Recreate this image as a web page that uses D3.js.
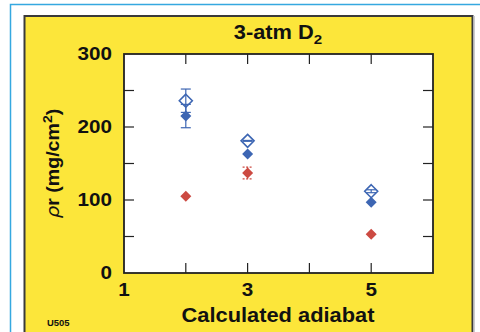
<!DOCTYPE html>
<html>
<head>
<meta charset="utf-8">
<script src="https://cdn.jsdelivr.net/npm/d3@7"></script>
<style>
  body { margin: 0; background: #fff; }
  text { font-family: "Liberation Sans", Arial, Helvetica, sans-serif; font-weight: bold; fill: #111; }
</style>
</head>
<body>
<div id="chart"></div>
<script>
// adiabat positions
var adiabat = [2, 3, 5];
// open blue diamonds
var openBlue = [236, 181, 112];
var openBlueErr = [16, 0.6, 2];
// filled blue diamonds
var fillBlue = [215, 163, 97];
var fillBlueErr = [16, 0, 0];
// filled red diamonds
var fillRed = [105, 137, 53];
var fillRedErr = [0, 8, 0];

var xTicks = [1, 3, 5];
var yTicks = [0, 100, 200, 300];

var W = 480, H = 332;
var margin = {top: 54, right: 47, bottom: 59, left: 124};
var stretch = 1.12; // the original lettering is a bit wider than Arial

var svg = d3.select("#chart").append("svg")
  .attr("width", W)
  .attr("height", H);

// outer light blue frame
svg.append("path")
  .attr("d", "M10.5," + H + "V4.5H" + W)
  .attr("fill", "none")
  .attr("stroke", "#35a8e0")
  .attr("stroke-width", 1.5);

// yellow panel
svg.append("rect")
  .attr("x", 24.5).attr("y", 16)
  .attr("width", 448).attr("height", H)
  .attr("fill", "#fce63a")
  .attr("stroke", "#3a3a3a")
  .attr("stroke-width", 2);
svg.append("line")
  .attr("x1", 474).attr("x2", 474).attr("y1", 16).attr("y2", H)
  .attr("stroke", "#bbb").attr("stroke-width", 1.5);

var pw = W - margin.left - margin.right;
var ph = H - margin.top - margin.bottom;

var x = d3.scaleLinear().domain([1, 6]).range([margin.left, margin.left + pw]);
var y = d3.scaleLinear().domain([0, 300]).range([margin.top + ph, margin.top]);

svg.append("rect")
  .attr("x", margin.left).attr("y", margin.top)
  .attr("width", pw).attr("height", ph)
  .attr("fill", "#fff");

// inward ticks on all four sides
var tl = 10;
var xMinor = [2, 3, 4, 5];
var yMinor = [50, 100, 150, 200, 250];
var ticks = svg.append("g").attr("stroke", "#222").attr("stroke-width", 1.2);
xMinor.forEach(function(v) {
  ticks.append("line").attr("x1", x(v)).attr("x2", x(v))
    .attr("y1", y(0)).attr("y2", y(0) - tl);
  ticks.append("line").attr("x1", x(v)).attr("x2", x(v))
    .attr("y1", y(300)).attr("y2", y(300) + tl);
});
yMinor.forEach(function(v) {
  ticks.append("line").attr("x1", x(1)).attr("x2", x(1) + tl)
    .attr("y1", y(v)).attr("y2", y(v));
  ticks.append("line").attr("x1", x(6)).attr("x2", x(6) - tl)
    .attr("y1", y(v)).attr("y2", y(v));
});

svg.append("rect")
  .attr("x", margin.left).attr("y", margin.top)
  .attr("width", pw).attr("height", ph)
  .attr("fill", "none")
  .attr("stroke", "#222")
  .attr("stroke-width", 1.8);

function label(px, py, size, anchor, sx, rot) {
  var g = svg.append("g")
    .attr("transform", "translate(" + px + "," + py + ")" + (rot ? " rotate(" + rot + ")" : "") +
      " scale(" + sx + ",1)");
  return g.append("text")
    .attr("text-anchor", anchor)
    .attr("font-size", size);
}

// tick labels
xTicks.forEach(function(d) {
  label(x(d), y(0) + 23, 17.5, "middle", 1.18).text(d);
});
yTicks.forEach(function(d) {
  label(x(1) - 12, y(d) + 6, 17.5, "end", 1.18).text(d);
});

// titles
var title = label(278, 39, 19.5, "middle", stretch).text("3-atm D");
title.append("tspan").attr("font-size", 13.5).attr("dy", 5).text("2");

label(278, 322, 19.5, "middle", stretch).text("Calculated adiabat");

var yt = label(59, margin.top + ph / 2, 17.5, "middle", stretch, -90);
yt.append("tspan").attr("font-family", "DejaVu Sans").attr("font-style", "italic")
  .attr("font-weight", "normal").text("\u03c1");
yt.append("tspan").text("r (mg/cm");
yt.append("tspan").attr("font-size", 12.5).attr("dy", -7).text("2");
yt.append("tspan").attr("dy", 7).text(")");

label(47, 326, 9, "start", 1.05).text("U505");

// data
var blue = "#3d66b3", red = "#cc4a42";

function diamond(r) {
  return "M0," + (-r) + "L" + r + ",0L0," + r + "L" + (-r) + ",0Z";
}

function errorBars(vals, errs, color, dash) {
  var g = svg.append("g").attr("stroke", color).attr("stroke-width", 1.2)
    .attr("stroke-dasharray", dash || null);
  adiabat.forEach(function(a, i) {
    if (!errs[i]) return;
    var cx = x(a);
    g.append("line").attr("x1", cx).attr("x2", cx)
      .attr("y1", y(vals[i] + errs[i])).attr("y2", y(vals[i] - errs[i]));
    [vals[i] + errs[i], vals[i] - errs[i]].forEach(function(v) {
      g.append("line").attr("x1", cx - 5).attr("x2", cx + 5)
        .attr("y1", y(v)).attr("y2", y(v));
    });
  });
}

errorBars(openBlue, openBlueErr, blue);
errorBars(fillBlue, fillBlueErr, blue);
errorBars(fillRed, fillRedErr, red, "2,1.5");

svg.selectAll(".ob").data(openBlue).enter().append("path")
  .attr("d", diamond(6.5))
  .attr("transform", function(d, i) { return "translate(" + x(adiabat[i]) + "," + y(d) + ")"; })
  .attr("fill", "none")
  .attr("stroke", blue)
  .attr("stroke-width", 1.6);

svg.selectAll(".fb").data(fillBlue).enter().append("path")
  .attr("d", diamond(5.5))
  .attr("transform", function(d, i) { return "translate(" + x(adiabat[i]) + "," + y(d) + ")"; })
  .attr("fill", blue);

svg.selectAll(".fr").data(fillRed).enter().append("path")
  .attr("d", diamond(5.5))
  .attr("transform", function(d, i) { return "translate(" + x(adiabat[i]) + "," + y(d) + ")"; })
  .attr("fill", red);
</script>
</body>
</html>
